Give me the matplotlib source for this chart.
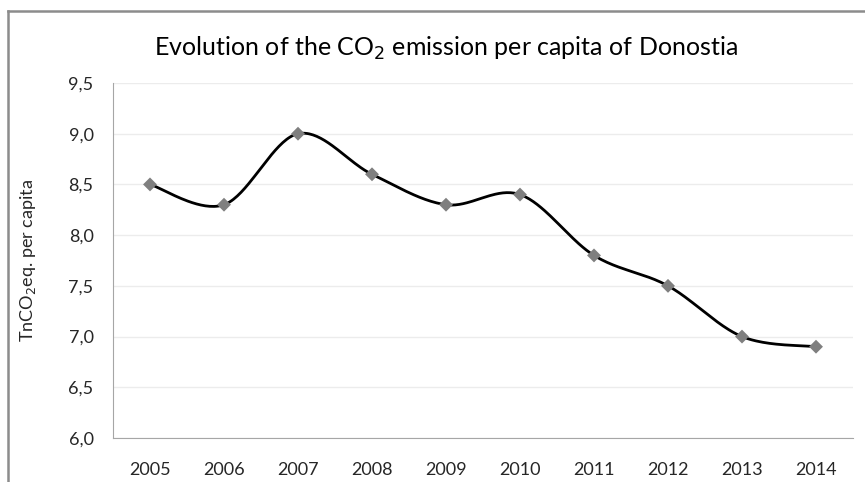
import numpy as np
import matplotlib
matplotlib.use('Agg')
import matplotlib.pyplot as plt
from matplotlib.lines import Line2D
from matplotlib.ticker import FuncFormatter, MultipleLocator

plt.rcParams['font.family'] = ['Lato', 'DejaVu Sans']

#%% data
years = ['2005', '2006', '2007', '2008', '2009', '2010', '2011', '2012', '2013', '2014']
co2 = [8.5, 8.3, 9.0, 8.6, 8.3, 8.4, 7.8, 7.5, 7.0, 6.9]

#%% smooth line like excel (catmull-rom as bezier)
def smooth(x, y, n=40):
    x = np.asarray(x, float); y = np.asarray(y, float)
    px = np.concatenate([[x[0]], x, [x[-1]]])
    py = np.concatenate([[y[0]], y, [y[-1]]])
    xs, ys = [], []
    t = np.linspace(0, 1, n)
    for i in range(1, len(x)):
        p0 = np.array([px[i-1], py[i-1]]); p1 = np.array([px[i], py[i]])
        p2 = np.array([px[i+1], py[i+1]]); p3 = np.array([px[i+2], py[i+2]])
        c1 = p1 + (p2 - p0) / 6
        c2 = p2 - (p3 - p1) / 6
        b = ((1-t)**3)[:, None]*p1 + (3*(1-t)**2*t)[:, None]*c1 + (3*(1-t)*t**2)[:, None]*c2 + (t**3)[:, None]*p2
        xs.append(b[:, 0]); ys.append(b[:, 1])
    return np.concatenate(xs), np.concatenate(ys)

x = np.arange(len(years))
sx, sy = smooth(x, co2)

fig = plt.figure(figsize=(8.65, 4.82), dpi=100)
ax = fig.add_axes([113/865, 1-438/482, 740/865, 355/482])

ax.plot(sx, sy, c='black', lw=2, zorder=3)
ax.scatter(x, co2, marker='D', s=50, c='#7f7f7f', edgecolors='none', zorder=4)

ax.set_xlim(-0.5, len(years)-0.5)
ax.set_ylim(6, 9.5)
ax.set_xticks(x)
ax.set_xticklabels(years)
ax.yaxis.set_major_locator(MultipleLocator(0.5))
ax.yaxis.set_major_formatter(FuncFormatter(lambda v, p: ('%.1f' % v).replace('.', ',')))
ax.grid(axis='y', color='#ececec', lw=1)
ax.set_axisbelow(True)
for s in ['top', 'right']:
    ax.spines[s].set_visible(False)
for s in ['left', 'bottom']:
    ax.spines[s].set_color('#a6a6a6')
ax.tick_params(length=0, labelsize=13, pad=14)
ax.tick_params(axis='x', pad=17)
for lab in ax.get_xticklabels() + ax.get_yticklabels():
    lab.set_color('#262626')

ax.set_ylabel('TnCO$_2$eq. per capita', fontsize=13, color='#262626')
ax.yaxis.set_label_coords((38-113)/740, 0.5)
fig.text(446/865, 1-48/482, 'Evolution of the CO$_2$ emission per capita of Donostia',
         ha='center', va='center', fontsize=18, color='black')

# chart frame
fig.add_artist(Line2D([8/865, 8/865], [0, 1-11/482], transform=fig.transFigure, color='#8c8c8c', lw=1.8))
fig.add_artist(Line2D([8/865, 1], [1-11/482, 1-11/482], transform=fig.transFigure, color='#8c8c8c', lw=1.8))

fig.savefig('out.png', dpi=100)
